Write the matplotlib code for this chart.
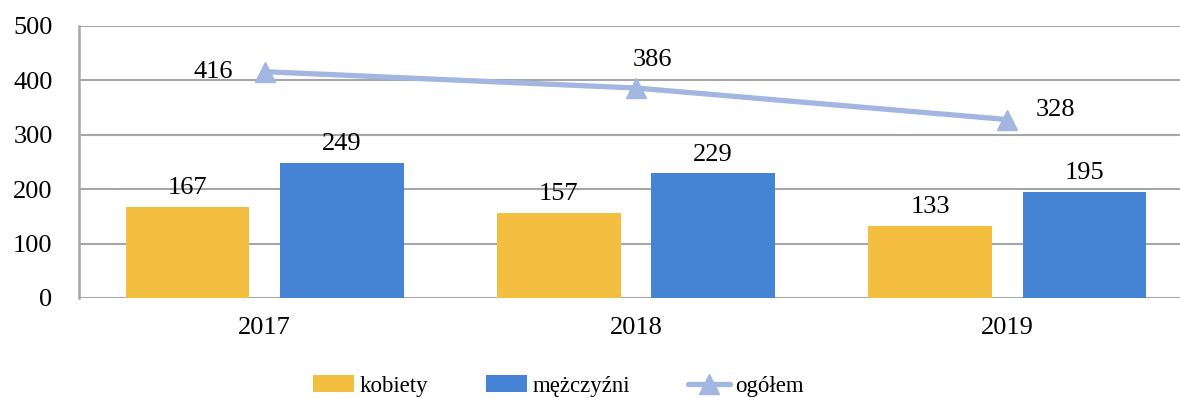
import matplotlib
matplotlib.use("Agg")
import matplotlib.pyplot as plt
import numpy as np

years = ["2017", "2018", "2019"]
kobiety = [167, 157, 133]
mezczyzni = [249, 229, 195]
ogolem = [416, 386, 328]
yticks = [0, 100, 200, 300, 400, 500]

c_k = "#F4BF40"
c_m = "#4583D4"
c_o = "#A2B6E2"
grid_c = "#A6A6A6"

plt.rcParams["font.family"] = ["Liberation Serif", "DejaVu Serif"]
fs = 19
fs_leg = 16.5

fig = plt.figure(figsize=(11.80, 3.98), dpi=100)
ax = fig.add_axes([79 / 1180, 100 / 398, 1114 / 1180, 272 / 398])

x = np.arange(len(years))
w = 0.333
gap = 0.083
off = (w + gap) / 2

b1 = ax.bar(x - off, kobiety, w, color=c_k, label="kobiety", zorder=2)
b2 = ax.bar(x + off, mezczyzni, w, color=c_m, label="mężczyźni", zorder=2)
ln, = ax.plot(x, ogolem, color=c_o, lw=3.8, marker="^", markersize=14,
              label="ogółem", zorder=3, solid_capstyle="round")

for xi, v in zip(x - off, kobiety):
    ax.annotate(str(v), (xi, v), xytext=(0, 13.5), textcoords="offset points",
                ha="center", va="center", fontsize=fs)
for xi, v in zip(x + off, mezczyzni):
    ax.annotate(str(v), (xi, v), xytext=(0, 13.5), textcoords="offset points",
                ha="center", va="center", fontsize=fs)

# total labels: left, above, right of the points
offsets = [(-37, 0), (12, 20), (35, 7)]
for xi, v, (dx, dy) in zip(x, ogolem, offsets):
    ax.annotate(str(v), (xi, v), xytext=(dx, dy), textcoords="offset points",
                ha="center", va="center", fontsize=fs)

ax.set_xlim(-0.5, 2.5)
ax.set_ylim(0, 500)
ax.set_yticks(yticks)
ax.set_xticks(x)
ax.set_xticklabels(years)
ax.tick_params(axis="both", length=0, labelsize=fs)
ax.tick_params(axis="y", pad=19)
ax.tick_params(axis="x", pad=14)
ax.yaxis.grid(True, color=grid_c, lw=1.5, zorder=0)
ax.set_axisbelow(True)
for s in ["top", "right", "bottom"]:
    ax.spines[s].set_visible(False)
ax.spines["left"].set_color(grid_c)
ax.spines["left"].set_linewidth(1.8)

fig.legend(handles=[b1, b2, ln], loc="center", bbox_to_anchor=(0.473, 12 / 398),
           ncol=3, frameon=False, fontsize=fs_leg, columnspacing=2.55,
           handlelength=1.8, handletextpad=0.22, handleheight=0.75,
           borderaxespad=0, borderpad=0)

fig.savefig("out.png", dpi=100)
